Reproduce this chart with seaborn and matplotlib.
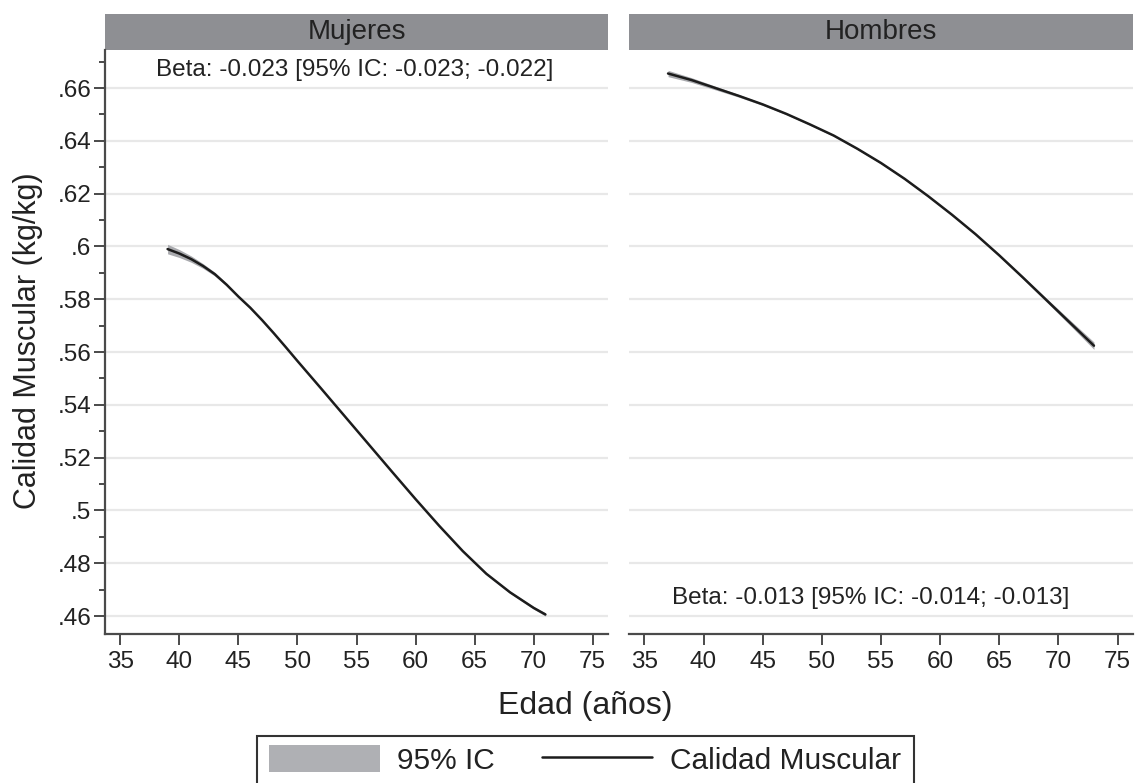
import matplotlib
matplotlib.use("Agg")
import matplotlib.pyplot as plt
import seaborn as sns
import pandas as pd
from matplotlib.patches import Patch, Rectangle
from matplotlib.lines import Line2D
from matplotlib.ticker import FixedLocator, FuncFormatter

# valores
edad_mujeres = [39, 40, 41, 42, 43, 44, 45, 46, 47, 48, 49, 50, 52, 54, 56, 58,
                60, 62, 64, 66, 68, 70, 71]
cm_mujeres = [0.5990, 0.5973, 0.5952, 0.5926, 0.5895, 0.5855, 0.5810, 0.5768,
              0.5721, 0.5671, 0.5619, 0.5566, 0.5462, 0.5357, 0.5252, 0.5147,
              0.5043, 0.4942, 0.4846, 0.4760, 0.4690, 0.4631, 0.4606]
ic_mujeres = [0.0018, 0.0015, 0.0012, 0.0009, 0.0007, 0.0005, 0.0004, 0.0003,
              0.0003, 0.0003, 0.0003, 0.0003, 0.0003, 0.0003, 0.0003, 0.0003,
              0.0003, 0.0003, 0.0003, 0.0003, 0.0004, 0.0005, 0.0006]

edad_hombres = [37, 39, 41, 43, 45, 47, 49, 51, 53, 55, 57, 59, 61, 63, 65, 67,
                69, 71, 73]
cm_hombres = [0.6655, 0.6630, 0.6600, 0.6570, 0.6538, 0.6502, 0.6462, 0.6420,
              0.6370, 0.6316, 0.6256, 0.6190, 0.6120, 0.6046, 0.5966, 0.5882,
              0.5796, 0.5710, 0.5624]
ic_hombres = [0.0012, 0.0009, 0.0007, 0.0005, 0.0004, 0.0003, 0.0003, 0.0003,
              0.0003, 0.0003, 0.0003, 0.0003, 0.0003, 0.0003, 0.0004, 0.0005,
              0.0007, 0.0010, 0.0014]

paneles = ["Mujeres", "Hombres"]
betas = ["Beta: -0.023 [95% IC: -0.023; -0.022]",
         "Beta: -0.013 [95% IC: -0.014; -0.013]"]
yticks = [0.46, 0.48, 0.50, 0.52, 0.54, 0.56, 0.58, 0.60, 0.62, 0.64, 0.66]
yminor = [0.47, 0.49, 0.51, 0.53, 0.55, 0.57, 0.59, 0.61, 0.63, 0.65, 0.67]
xticks = [35, 40, 45, 50, 55, 60, 65, 70, 75]

sns.set_style("white")
plt.rcParams['font.family'] = ['Liberation Sans', 'DejaVu Sans']

W, H = 1135, 783
fig = plt.figure(figsize=(W / 100, H / 100), dpi=100)
ax1 = fig.add_axes([105 / W, 1 - 634 / H, 503 / W, 584 / H])
ax2 = fig.add_axes([629 / W, 1 - 634 / H, 504 / W, 584 / H], sharey=ax1)

datos = [(edad_mujeres, cm_mujeres, ic_mujeres), (edad_hombres, cm_hombres, ic_hombres)]
linea = '#1c1c1c'
banda = '#a9aaae'
eje = '#4a4a4a'
texto = '#222222'

for i, (ax, (ed, cm, ic)) in enumerate(zip([ax1, ax2], datos)):
    df = pd.DataFrame({'edad': ed, 'cm': cm, 'ic': ic})
    ax.fill_between(df['edad'], df['cm'] - df['ic'], df['cm'] + df['ic'],
                    color=banda, linewidth=0, zorder=2)
    sns.lineplot(data=df, x='edad', y='cm', ax=ax, color=linea, linewidth=1.8, zorder=3)
    ax.set_xlim(33.7, 76.3)
    ax.set_ylim(0.4532, 0.6744)
    ax.xaxis.set_major_locator(FixedLocator(xticks))
    ax.yaxis.set_major_locator(FixedLocator(yticks))
    ax.grid(axis='y', color='#e8e8e8', linewidth=1.6, zorder=0)
    ax.grid(axis='x', visible=False)
    for s in ['top', 'right']:
        ax.spines[s].set_visible(False)
    ax.spines['bottom'].set_color(eje)
    ax.spines['bottom'].set_linewidth(1.6)
    ax.tick_params(axis='x', direction='out', length=8, width=1.4, color=eje,
                   labelsize=17.5, pad=4, labelcolor=texto, bottom=True)
    ax.set_xlabel('')
    ax.set_ylabel('')
    # cabecera del panel
    ax.add_patch(Rectangle((0, 1), 1, 36 / 584, transform=ax.transAxes,
                           facecolor='#8e8f93', edgecolor='none', clip_on=False))
    ax.text(0.5, 1 + 18 / 584, paneles[i], transform=ax.transAxes, ha='center',
            va='center', fontsize=20, color=texto)

ax1.text(0.497, 0.966, betas[0], transform=ax1.transAxes, ha='center', va='center',
         fontsize=17.5, color=texto)
ax2.text(0.48, 0.062, betas[1], transform=ax2.transAxes, ha='center', va='center',
         fontsize=17.5, color=texto)

ax1.spines['left'].set_color(eje)
ax1.spines['left'].set_linewidth(1.6)
ax1.yaxis.set_minor_locator(FixedLocator(yminor))
ax1.yaxis.set_major_formatter(FuncFormatter(lambda v, p: f"{v:g}".replace('0.', '.', 1)))
ax1.tick_params(axis='y', which='major', direction='out', length=8, width=1.4,
                color=eje, labelsize=17.5, pad=2, labelcolor=texto, left=True)
ax1.tick_params(axis='y', which='minor', direction='out', length=4.5, width=1.4,
                color=eje, left=True)

ax2.spines['left'].set_visible(False)
ax2.tick_params(axis='y', which='both', left=False, labelleft=False)

fig.text(28 / W, 1 - 341 / H, 'Calidad Muscular (kg/kg)', rotation=90, ha='center',
         va='center', fontsize=22, color=texto)
fig.text(585 / W, 1 - 706 / H, 'Edad (años)', ha='center', va='center',
         fontsize=23, color=texto)

# leyenda con marco propio (recortado por el borde inferior)
fig.add_artist(Rectangle((257 / W, 1 - 795 / H), 657 / W, 59 / H,
                         transform=fig.transFigure, facecolor='white',
                         edgecolor='#333333', linewidth=1.5))
handles = [Patch(facecolor='#afb0b4', edgecolor='none'),
           Line2D([], [], color=linea, linewidth=1.8)]
leg = fig.legend(handles, ['95% IC', 'Calidad Muscular'], loc='center',
                 bbox_to_anchor=(585 / W, 1 - 760 / H), ncol=2, fontsize=21.5,
                 frameon=False, handlelength=3.7, handleheight=1.0,
                 columnspacing=1.55, handletextpad=0.6, borderpad=0.0)
for t in leg.get_texts():
    t.set_color(texto)

fig.savefig('out.png', dpi=100)
